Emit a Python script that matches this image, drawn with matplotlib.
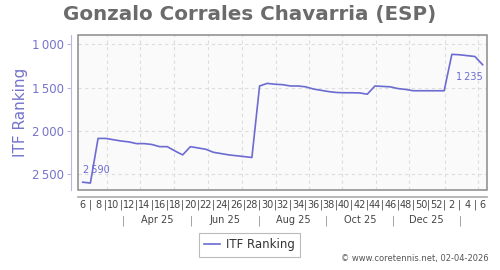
import matplotlib
matplotlib.use("Agg")
import matplotlib.pyplot as plt
import matplotlib.transforms as mtransforms
from matplotlib.patches import Rectangle

# Datos: ranking ITF semanal (semana 6 de 2025 a semana 6 de 2026)
ranking = [2590, 2600, 2085, 2085, 2100, 2115, 2125, 2145, 2145, 2155,
           2180, 2180, 2230, 2275, 2180, 2195, 2210, 2245, 2260, 2275,
           2285, 2295, 2305, 1480, 1450, 1460, 1465, 1480, 1480, 1490,
           1515, 1530, 1545, 1555, 1558, 1558, 1560, 1575, 1480, 1485,
           1490, 1510, 1520, 1535, 1535, 1535, 1535, 1535, 1115, 1120,
           1130, 1140, 1235]
week_labels = ["6", "8", "10", "12", "14", "16", "18", "20", "22", "24", "26",
               "28", "30", "32", "34", "36", "38", "40", "42", "44", "46",
               "48", "50", "52", "2", "4", "6"]
month_labels = ["Apr 25", "Jun 25", "Aug 25", "Oct 25", "Dec 25"]
y_ticks = [1000, 1500, 2000, 2500]

# posiciones (en semanas) de rejilla y separadores de meses
grid_x = [3.12, 7.49, 11.87, 16.29, 20.67, 25.1, 29.47, 33.76, 38.18, 42.47, 47.07, 51.4]
month_sep = [5.28, 14.17, 22.93, 31.73, 40.39, 49.06]

line_color = "#6b6bd2"
tick_color = "#7474cc"

def fmt(v):
    s = f"{v:,}"
    return s.replace(",", "\u2009")

fig = plt.figure(figsize=(5, 2.7), dpi=100)
ax = fig.add_axes([0.156, 0.296, 0.818, 0.574])
ax.set_facecolor("#fafafa")

x = list(range(len(ranking)))
ax.plot(x, ranking, color=line_color, lw=1.2, zorder=3)

ax.set_xlim(-0.61, 52.57)
ax.set_ylim(2681, 893)

for gx in grid_x:
    ax.axvline(gx, color="#dddddd", lw=0.8, ls=(0, (3, 3)), zorder=1)
for yt in y_ticks:
    ax.axhline(yt, color="#dddddd", lw=0.8, ls=(0, (3, 3)), zorder=1)

# marco del área de trazado
ax.add_patch(Rectangle((0, 0), 1, 1, transform=ax.transAxes, fill=False,
                       edgecolor="#8a8a8a", lw=1.1, clip_on=False, zorder=4))

for s in ["top", "right"]:
    ax.spines[s].set_visible(False)
ax.spines["left"].set_position(("outward", 5))
ax.spines["left"].set_color("#b8b8e4")
ax.spines["bottom"].set_position(("outward", 5))
ax.spines["bottom"].set_color("#aaaaaa")
ax.spines["bottom"].set_linewidth(1.2)

ax.set_yticks(y_ticks, labels=[fmt(v) for v in y_ticks])
ax.tick_params(axis="y", colors="#b8b8e4", labelcolor=tick_color, labelsize=8.5,
               length=3, pad=2)

ax.set_xticks(range(0, 53, 2), labels=week_labels)
ax.set_xticks(range(1, 53, 2), labels=["|"] * 26, minor=True)
ax.tick_params(axis="x", which="both", length=0, labelsize=7, labelcolor="#444444", pad=2)

ax.set_ylabel("ITF Ranking", color=tick_color, fontsize=11, labelpad=3)

trans = mtransforms.blended_transform_factory(ax.transData, ax.transAxes)
month_centers = [(month_sep[i] + month_sep[i + 1]) / 2 for i in range(len(month_labels))]
for mx, lab in zip(month_centers, month_labels):
    ax.text(mx, -0.195, lab, transform=trans, ha="center", va="center",
            fontsize=7, color="#444444")
for sx in month_sep:
    ax.text(sx, -0.195, "|", transform=trans, ha="center", va="center",
            fontsize=7, color="#888888")

# etiquetas del primer y último valor
ax.annotate(fmt(ranking[0]), (0, ranking[0]), xytext=(0, 5), textcoords="offset points",
            ha="left", va="bottom", fontsize=7, color=line_color)
ax.annotate(fmt(ranking[-1]), (52, ranking[-1]), xytext=(0, -5), textcoords="offset points",
            ha="right", va="top", fontsize=7, color=line_color)

fig.text(0.5, 0.948, "Gonzalo Corrales Chavarria (ESP)", ha="center", va="center",
         fontsize=14.3, fontweight="bold", color="#6b6b6b")

leg = fig.legend(["ITF Ranking"], loc="center", bbox_to_anchor=(0.499, 0.093),
                 fontsize=8.5, frameon=True, fancybox=False, handlelength=1.4,
                 handletextpad=0.5, borderpad=0.45)
leg.get_frame().set_edgecolor("#aaaaaa")
leg.get_frame().set_linewidth(0.8)
for t in leg.get_texts():
    t.set_color("#333333")

fig.text(0.978, 0.025, "\u00a9 www.coretennis.net, 02-04-2026", ha="right", va="bottom",
         fontsize=6, color="#555555")

fig.savefig("out.png", dpi=100)
